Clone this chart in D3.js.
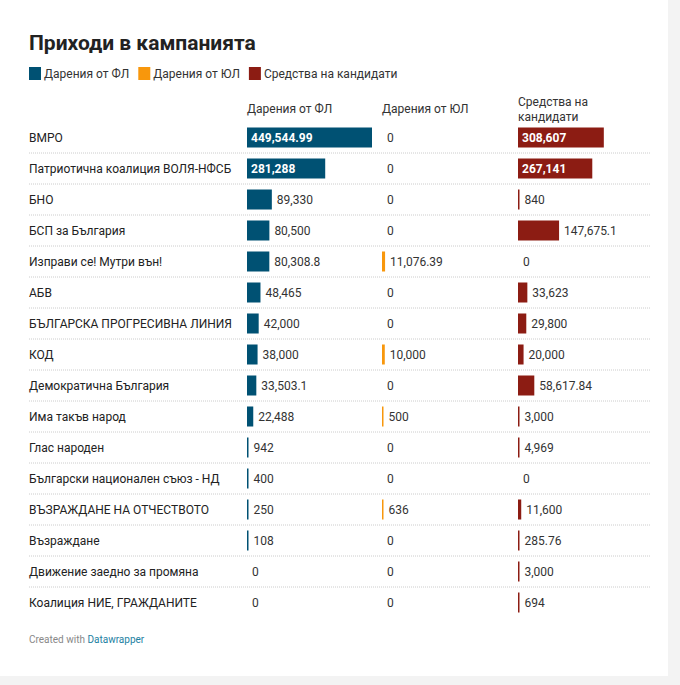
<!DOCTYPE html>
<html><head><meta charset="utf-8">
<script src="https://cdn.jsdelivr.net/npm/d3@7"></script>
<style>
body{margin:0;background:#f3f3f3;font-family:Roboto,sans-serif}
#card{position:absolute;left:0;top:0;width:668px;height:676px;background:#fff}
</style></head>
<body><div id="card"></div>
<script>
var rows = [
    ["ВМРО", 449544.99, 0, 308607],
    ["Патриотична коалиция ВОЛЯ-НФСБ", 281288, 0, 267141],
    ["БНО", 89330, 0, 840],
    ["БСП за България", 80500, 0, 147675.1],
    ["Изправи се! Мутри вън!", 80308.8, 11076.39, 0],
    ["АБВ", 48465, 0, 33623],
    ["БЪЛГАРСКА ПРОГРЕСИВНА ЛИНИЯ", 42000, 0, 29800],
    ["КОД", 38000, 10000, 20000],
    ["Демократична България", 33503.1, 0, 58617.84],
    ["Има такъв народ", 22488, 500, 3000],
    ["Глас народен", 942, 0, 4969],
    ["Български национален съюз - НД", 400, 0, 0],
    ["ВЪЗРАЖДАНЕ НА ОТЧЕСТВОТО", 250, 636, 11600],
    ["Възраждане", 108, 0, 285.76],
    ["Движение заедно за промяна", 0, 0, 3000],
    ["Коалиция НИЕ, ГРАЖДАНИТЕ", 0, 0, 694]
]
var cols = [
    {name:"Дарения от ФЛ", x:247, color:"#005173"},
    {name:"Дарения от ЮЛ", x:382, color:"#f8970c"},
    {name:"Средства на кандидати", x:518, color:"#8c1c13"}
]
var svg = d3.select("#card").append("svg").attr("width",668).attr("height",676)

svg.append("text").attr("x",29).attr("y",50).attr("font-size",21).attr("font-weight",700)
    .attr("fill","#222").text("Приходи в кампанията")

var lx = 29
cols.forEach(function(c){
    svg.append("rect").attr("x",lx).attr("y",67).attr("width",12).attr("height",13).attr("fill",c.color)
    var t = svg.append("text").attr("x",lx+15).attr("y",78).attr("font-size",12).attr("fill","#333").text(c.name)
    lx += t.node().getComputedTextLength() + 24
})

// headers
svg.append("text").attr("x",cols[0].x).attr("y",113).attr("font-size",12).attr("fill","#333").text("Дарения от ФЛ")
svg.append("text").attr("x",cols[1].x).attr("y",113).attr("font-size",12).attr("fill","#333").text("Дарения от ЮЛ")
svg.append("text").attr("x",cols[2].x).attr("y",106).attr("font-size",12).attr("fill","#333").text("Средства на")
svg.append("text").attr("x",cols[2].x).attr("y",121).attr("font-size",12).attr("fill","#333").text("кандидати")

var y = d3.scaleBand().domain(rows.map(function(d){return d[0]})).range([122,618]).paddingInner(0)
var w = d3.scaleLinear().domain([0, 449544.99]).range([0,125])
var fmt = function(v){ return d3.format(",")(v) }

var g = svg.selectAll("g.row").data(rows).enter().append("g").attr("class","row")
    .attr("transform",function(d){return "translate(0,"+y(d[0])+")"})

g.filter(function(d,i){return i<rows.length-1}).append("line")
    .attr("x1",29).attr("x2",650).attr("y1",y.bandwidth()).attr("y2",y.bandwidth())
    .attr("stroke","#ccc").attr("stroke-dasharray","1,1")

g.append("text").attr("x",29).attr("y",y.bandwidth()/2+4).attr("font-size",12).attr("fill","#222")
    .text(function(d){return d[0]})

cols.forEach(function(c,ci){
    g.each(function(d){
        var v = d[ci+1], bw = v>0 ? Math.max(1.5, w(v)) : 0
        var s = d3.select(this)
        if(bw>0){
            s.append("rect").attr("x",c.x).attr("y",y.bandwidth()/2-10).attr("width",bw).attr("height",20).attr("fill",c.color)
        }
        var inside = bw > 70
        s.append("text").attr("x", inside ? c.x+4 : c.x+bw+5).attr("y",y.bandwidth()/2+4)
            .attr("font-size",12).attr("font-weight",inside?700:400)
            .attr("fill",inside?"#fff":"#333").text(fmt(v))
    })
})

var f = svg.append("text").attr("x",29).attr("y",643).attr("font-size",10).attr("fill","#888")
f.append("tspan").text("Created with ")
f.append("tspan").attr("fill","#1d81a2").text("Datawrapper")
</script></body></html>
